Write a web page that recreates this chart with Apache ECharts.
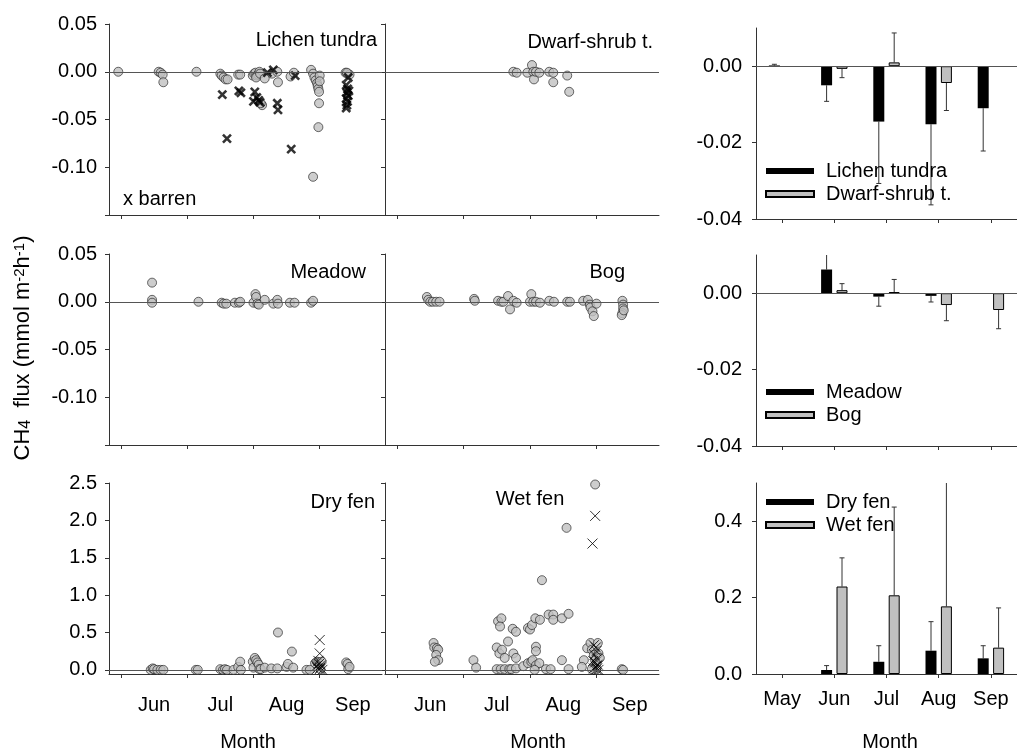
<!DOCTYPE html>
<html>
<head>
<meta charset="utf-8">
<title>CH4 flux by vegetation type</title>
<script src="https://cdn.jsdelivr.net/npm/echarts@6.0.0/dist/echarts.min.js"></script>
<style>
  html, body { margin: 0; padding: 0; background: #fff; }
  #chart { width: 1017px; height: 751px; }
</style>
</head>
<body>
<div id="chart"></div>
<script>
// ---- data: x is month as a fraction (6.0 = 1 June), y is CH4 flux ----
const monthStarts = [6, 7, 8, 9];
const monthMids = [6.5, 7.5, 8.5, 9.5];
const scatterMonths = ['Jun', 'Jul', 'Aug', 'Sep'];
const barMonths = ['May', 'Jun', 'Jul', 'Aug', 'Sep'];

const fluxTicks = [-0.15, -0.1, -0.05, 0, 0.05];
const fluxLabels = [-0.1, -0.05, 0, 0.05];
const fenTicks = [0, 0.5, 1, 1.5, 2, 2.5];
const meanTicks = [-0.04, -0.02, 0];
const fenMeanTicks = [0, 0.2, 0.4];

const lichenPoints = [
  [5.96, 0], [6.57, 0], [6.6, -0.001], [6.63, -0.003], [6.64, -0.011], [7.14, 0],
  [7.5, -0.002], [7.52, -0.004], [7.55, -0.006], [7.58, -0.008], [7.61, -0.008],
  [7.77, -0.003], [7.8, -0.003], [7.99, -0.004], [8.01, -0.002], [8.03, -0.001],
  [8.05, -0.004], [8.07, -0.003], [8.09, 0], [8.04, -0.006], [8.1, -0.002],
  [8.17, -0.007], [8.13, -0.035], [8.11, -0.033], [8.28, -0.002], [8.36, 0], [8.37, -0.011],
  [8.56, -0.005], [8.61, -0.001], [8.87, 0.002], [8.9, -0.002], [8.92, -0.006],
  [8.94, -0.009], [8.96, -0.012], [8.97, -0.015], [8.98, -0.018], [8.99, -0.021],
  [9.0, -0.004], [9.0, -0.01], [8.99, -0.033], [8.98, -0.058], [8.9, -0.11],
  [9.39, -0.001], [9.42, -0.002], [9.45, -0.003], [9.41, -0.001]
];
const barrenPoints = [
  [7.53, -0.024], [7.6, -0.07], [7.78, -0.02], [7.81, -0.022], [8.0, -0.031], [8.02, -0.021],
  [8.05, -0.027], [8.08, -0.03], [8.1, -0.032], [8.21, -0.001], [8.3, 0.002], [8.36, -0.033],
  [8.37, -0.04], [8.57, -0.081], [8.63, -0.004], [9.4, -0.014], [9.42, -0.018], [9.41, -0.022],
  [9.43, -0.025], [9.4, -0.028], [9.42, -0.031], [9.41, -0.035], [9.4, -0.038], [9.43, -0.006],
  [9.44, -0.02]
];
const dwarfPoints = [
  [7.75, 0], [7.8, -0.001], [7.96, -0.001], [8.03, 0.007], [8.05, 0], [8.06, -0.008],
  [8.09, 0], [8.14, -0.001], [8.29, 0], [8.35, -0.001], [8.35, -0.011], [8.56, -0.004],
  [8.59, -0.021]
];
const meadowPoints = [
  [6.47, 0.02], [6.47, 0.002], [6.47, -0.001], [7.17, 0], [7.52, -0.001], [7.55, -0.002],
  [7.59, -0.002], [7.72, -0.001], [7.78, -0.001], [7.8, 0], [8.0, -0.001], [8.03, 0.008],
  [8.04, 0.005], [8.06, -0.002], [8.08, -0.003], [8.17, 0.002], [8.3, -0.002], [8.36, 0.002],
  [8.37, -0.002], [8.55, -0.001], [8.62, -0.001], [8.87, -0.001], [8.9, 0.001]
];
const bogPoints = [
  [6.45, 0.005], [6.47, 0.002], [6.5, 0], [6.54, 0], [6.59, 0], [6.64, 0], [7.16, 0.003],
  [7.17, 0.001], [7.52, 0.001], [7.57, 0], [7.6, 0], [7.67, 0.006], [7.7, -0.008], [7.75, 0.001],
  [7.8, -0.001], [8.0, 0], [8.02, 0.008], [8.05, 0], [8.09, 0], [8.15, -0.001], [8.29, 0.001],
  [8.36, 0], [8.56, 0], [8.6, 0], [8.8, 0.001], [8.87, 0.002], [8.9, -0.003], [8.91, -0.006],
  [8.94, -0.01], [8.96, -0.015], [9.0, -0.002], [9.39, 0.001], [9.4, -0.003], [9.4, -0.007],
  [9.39, -0.012], [9.38, -0.014], [9.41, -0.009]
];
const dryFenPoints = [
  [6.45, 0], [6.48, 0.02], [6.5, 0.01], [6.55, 0], [6.6, 0], [6.64, 0], [7.13, 0], [7.16, 0],
  [7.5, 0.01], [7.54, 0], [7.57, 0.01], [7.6, 0], [7.7, 0], [7.77, 0.04], [7.8, 0.11], [7.81, 0],
  [7.99, 0.11], [8.0, 0.03], [8.02, 0.16], [8.04, 0.13], [8.06, 0.1], [8.08, 0.07], [8.09, 0.01],
  [8.11, 0.01], [8.17, 0.03], [8.27, 0.02], [8.36, 0.02], [8.37, 0.5], [8.5, 0.04], [8.52, 0.08],
  [8.58, 0.245], [8.6, 0.03], [8.8, 0], [8.85, 0], [8.93, 0.09], [8.96, 0.11], [8.98, 0.1],
  [9.0, 0.08], [9.01, 0.01], [9.03, 0.11], [9.4, 0.1], [9.42, 0.08], [9.43, 0.01], [9.45, 0.04]
];
const dryFenCrosses = [
  [9.0, 0.4], [9.0, 0.22], [8.98, 0.12], [8.95, 0.05], [8.97, 0.02], [9.0, 0.01],
  [9.02, 0.06], [9.04, 0.0], [8.99, 0.08], [9.01, 0.03]
];
const wetFenPoints = [
  [6.55, 0.36], [6.56, 0.3], [6.6, 0.29], [6.62, 0.27], [6.59, 0.2], [6.62, 0.13], [6.57, 0.11],
  [7.15, 0.13], [7.19, 0.03], [7.52, 0.65], [7.57, 0.69], [7.55, 0.58], [7.5, 0.3], [7.54, 0.22],
  [7.58, 0.27], [7.62, 0.16], [7.67, 0.38], [7.74, 0.55], [7.79, 0.51], [7.75, 0.22], [7.79, 0.16],
  [7.5, 0.01], [7.56, 0.01], [7.62, 0.01], [7.69, 0.01], [7.72, 0.01], [7.79, 0.02],
  [7.97, 0.56], [8.0, 0.54], [8.03, 0.6], [8.08, 0.69], [8.15, 0.67], [8.18, 1.2], [8.09, 0.31],
  [8.09, 0.25], [7.9, 0.05], [7.97, 0.09], [8.02, 0.11], [8.04, 0.13], [8.09, 0.06], [8.14, 0.09],
  [8.07, 0.0], [8.24, 0.01], [8.31, 0.01], [8.28, 0.74], [8.35, 0.74], [8.35, 0.67], [8.48, 0.69],
  [8.58, 0.75], [8.55, 1.9], [8.48, 0.13], [8.58, 0.01], [8.98, 2.48], [8.81, 0.13], [8.78, 0.04],
  [8.86, 0.29], [8.91, 0.36], [8.93, 0.27], [8.96, 0.2], [8.98, 0.13], [9.0, 0.09], [9.02, 0.36],
  [9.03, 0.22], [9.05, 0.16], [9.0, 0.01], [8.93, 0.01], [9.38, 0.01], [9.4, 0.0]
];
const wetFenCrosses = [
  [8.98, 2.06], [8.94, 1.69], [8.96, 0.33], [8.99, 0.3], [9.0, 0.25], [8.97, 0.2], [9.01, 0.15],
  [8.98, 0.1], [9.02, 0.07], [8.99, 0.04], [9.0, 0.01], [8.96, 0.02], [9.03, 0.0], [8.95, 0.12],
  [9.01, 0.05]
];

// monthly means and one-sided errors
const lichenMean = [0.0002, -0.005, -0.0145, -0.0152, -0.011];
const lichenErr = [0.0003, 0.0042, 0.0162, 0.0211, 0.0112];
const dwarfMean = [null, -0.0007, 0.001, -0.0044, null];
const dwarfErr = [null, 0.0023, 0.0077, 0.0072, null];
const meadowMean = [null, 0.0062, -0.0009, -0.0007, null];
const meadowErr = [null, 0.006, 0.0025, 0.0016, null];
const bogMean = [null, 0.0008, 0.0003, -0.0031, -0.0044];
const bogErr = [null, 0.0017, 0.0033, 0.0041, 0.0049];
const dryFenMean = [null, 0.0104, 0.032, 0.061, 0.041];
const dryFenErr = [null, 0.0116, 0.042, 0.076, 0.033];
const wetFenMean = [null, 0.229, 0.206, 0.177, 0.069];
const wetFenErr = [null, 0.075, 0.231, 0.4, 0.104];

// ---- styling ----
const FONT = 'Liberation Sans, Arial, sans-serif';
const AXIS = '#333';
const GREY = '#c0c0c0';
const BAR_W = 11;
const BAR_GAP = 0.4;
const CAP = 2.5;

const chart = echarts.init(document.getElementById('chart'));

const axisLine = { show: true, onZero: false, lineStyle: { color: AXIS, width: 1 } };
const tickStyle = { color: AXIS, width: 1 };
const labelStyle = { color: '#000', fontSize: 20, fontFamily: FONT };

function scatterX(gridIndex, withLabels) {
  return {
    type: 'value', gridIndex, min: 5.82, max: 9.94,
    axisLine,
    axisTick: { show: true, length: 4, customValues: monthStarts, lineStyle: tickStyle },
    axisLabel: Object.assign({
      show: withLabels, margin: 21, customValues: monthMids,
      formatter: v => scatterMonths[Math.round(v - 6.5)]
    }, labelStyle),
    splitLine: { show: false }
  };
}

function valueY(gridIndex, min, max, ticks, labels, digits, withLabels, margin) {
  return {
    type: 'value', gridIndex, min, max,
    axisLine,
    axisTick: { show: true, length: 4, customValues: ticks, lineStyle: tickStyle },
    axisLabel: Object.assign({
      show: withLabels, margin, customValues: labels,
      formatter: v => v.toFixed(digits)
    }, labelStyle),
    splitLine: { show: false }
  };
}

function barX(gridIndex, withLabels) {
  return {
    type: 'category', gridIndex, data: barMonths, boundaryGap: true,
    axisLine,
    axisTick: { show: true, length: 4, alignWithLabel: true, lineStyle: tickStyle },
    axisLabel: Object.assign({ show: withLabels, margin: 15 }, labelStyle),
    splitLine: { show: false }
  };
}

const zeroLine = {
  silent: true, symbol: ['none', 'none'], label: { show: false },
  lineStyle: { color: '#555', width: 1, type: 'solid' },
  emphasis: { disabled: true },
  data: [{ yAxis: 0 }]
};

function circles(name, idx, data) {
  return {
    name, type: 'scatter', xAxisIndex: idx, yAxisIndex: idx, data,
    symbol: 'circle', symbolSize: 9,
    itemStyle: { color: GREY, borderColor: '#1a1a1a', borderWidth: 0.8 },
    markLine: zeroLine, z: 2
  };
}

function crosses(name, idx, data, size, width) {
  return {
    name, type: 'scatter', xAxisIndex: idx, yAxisIndex: idx, data,
    symbol: 'path://M0,0L10,10M10,0L0,10', symbolSize: size,
    itemStyle: { color: 'transparent', borderColor: '#000', borderWidth: width },
    z: 3
  };
}

function bars(name, idx, data, dark, withZero) {
  const s = {
    name, type: 'bar', xAxisIndex: idx, yAxisIndex: idx, data,
    barWidth: BAR_W, barGap: (BAR_GAP * 100) + '%',
    itemStyle: dark
      ? { color: '#000' }
      : { color: GREY, borderColor: '#000', borderWidth: 1 },
    z: 2
  };
  if (withZero) s.markLine = zeroLine;
  return s;
}

function errorBars(idx, means, errs, side) {
  const data = [];
  means.forEach((m, i) => { if (m !== null) data.push([i, m, errs[i]]); });
  return {
    type: 'custom', xAxisIndex: idx, yAxisIndex: idx, data,
    encode: { x: 0, y: 1 }, silent: true, z: 1,
    renderItem(params, api) {
      const mean = api.value(1);
      const err = api.value(2);
      const end = mean + (mean < 0 ? -err : err);
      const p0 = api.coord([api.value(0), mean]);
      const p1 = api.coord([api.value(0), end]);
      const cs = params.coordSys;
      const x = p0[0] + side * BAR_W * (1 + BAR_GAP) / 2;
      let y1 = p1[1];
      let capped = true;
      if (y1 < cs.y) { y1 = cs.y; capped = false; }
      if (y1 > cs.y + cs.height) { y1 = cs.y + cs.height; capped = false; }
      const style = { stroke: '#333', lineWidth: 1 };
      const children = [{ type: 'line', shape: { x1: x, y1: p0[1], x2: x, y2: y1 }, style }];
      if (capped) {
        children.push({ type: 'line', shape: { x1: x - CAP, y1, x2: x + CAP, y2: y1 }, style });
      }
      return { type: 'group', children };
    }
  };
}

function legend(names, top) {
  return {
    data: names, orient: 'vertical', left: 760, top,
    icon: 'rect', itemWidth: 48, itemHeight: 6, itemGap: 3,
    selectedMode: false,
    textStyle: { color: '#000', fontSize: 20, fontFamily: FONT, padding: [0, 0, 0, 7], lineHeight: 20 }
  };
}

function panelText(text, x, y, align) {
  return {
    type: 'text', x, y, silent: true,
    style: { text, fill: '#000', font: '20px ' + FONT, textAlign: align || 'right', textVerticalAlign: 'middle' }
  };
}

const option = {
  animation: false,
  backgroundColor: '#fff',
  textStyle: { fontFamily: FONT },
  grid: [
    { left: 109, top: 24, width: 273, height: 191 },
    { left: 385, top: 24, width: 274, height: 191 },
    { left: 109, top: 254, width: 273, height: 191 },
    { left: 385, top: 254, width: 274, height: 191 },
    { left: 109, top: 483, width: 273, height: 191 },
    { left: 385, top: 483, width: 274, height: 191 },
    { left: 756, top: 28, width: 261, height: 191 },
    { left: 756, top: 255, width: 261, height: 191 },
    { left: 756, top: 483, width: 261, height: 191 }
  ],
  xAxis: [
    scatterX(0, false), scatterX(1, false),
    scatterX(2, false), scatterX(3, false),
    scatterX(4, true), scatterX(5, true),
    barX(6, false), barX(7, false), barX(8, true)
  ],
  yAxis: [
    valueY(0, -0.15, 0.05, fluxTicks, fluxLabels, 2, true, 12),
    valueY(1, -0.15, 0.05, fluxTicks, fluxLabels, 2, false, 12),
    valueY(2, -0.15, 0.05, fluxTicks, fluxLabels, 2, true, 12),
    valueY(3, -0.15, 0.05, fluxTicks, fluxLabels, 2, false, 12),
    valueY(4, -0.055, 2.5, fenTicks, fenTicks, 1, true, 12),
    valueY(5, -0.055, 2.5, fenTicks, fenTicks, 1, false, 12),
    valueY(6, -0.04, 0.01, meanTicks, meanTicks, 2, true, 14),
    valueY(7, -0.04, 0.01, meanTicks, meanTicks, 2, true, 14),
    valueY(8, 0, 0.5, fenMeanTicks, fenMeanTicks, 1, true, 14)
  ],
  legend: [
    legend(['Lichen tundra', 'Dwarf-shrub t.'], 156),
    legend(['Meadow', 'Bog'], 377),
    legend(['Dry fen', 'Wet fen'], 487)
  ],
  graphic: [
    panelText('Lichen tundra', 377, 40),
    panelText('x barren', 123, 199, 'left'),
    panelText('Dwarf-shrub t.', 653, 42),
    panelText('Meadow', 366, 272),
    panelText('Bog', 625, 272),
    panelText('Dry fen', 375, 502),
    panelText('Wet fen', 530, 499, 'center'),
    panelText('Month', 248, 742, 'center'),
    panelText('Month', 538, 742, 'center'),
    panelText('Month', 890, 742, 'center'),
    {
      type: 'text', x: 23, y: 348, rotation: Math.PI / 2, silent: true,
      style: {
        text: 'CH{sub|4}  flux (mmol m{sup|-2}h{sup|-1})',
        fill: '#000', font: '22px ' + FONT, textAlign: 'center', textVerticalAlign: 'middle',
        rich: {
          sub: { fontSize: 16, fontFamily: FONT, verticalAlign: 'bottom', fill: '#000' },
          sup: { fontSize: 15, fontFamily: FONT, verticalAlign: 'top', fill: '#000' }
        }
      }
    }
  ],
  series: [
    circles('Lichen points', 0, lichenPoints),
    crosses('barren', 0, barrenPoints, 8, 2.6),
    circles('Dwarf points', 1, dwarfPoints),
    circles('Meadow points', 2, meadowPoints),
    circles('Bog points', 3, bogPoints),
    circles('Dry fen points', 4, dryFenPoints),
    crosses('Dry fen x', 4, dryFenCrosses, 10, 1),
    circles('Wet fen points', 5, wetFenPoints),
    crosses('Wet fen x', 5, wetFenCrosses, 10, 1),

    bars('Lichen tundra', 6, lichenMean, true, true),
    bars('Dwarf-shrub t.', 6, dwarfMean, false, false),
    errorBars(6, lichenMean, lichenErr, -1),
    errorBars(6, dwarfMean, dwarfErr, 1),

    bars('Meadow', 7, meadowMean, true, true),
    bars('Bog', 7, bogMean, false, false),
    errorBars(7, meadowMean, meadowErr, -1),
    errorBars(7, bogMean, bogErr, 1),

    bars('Dry fen', 8, dryFenMean, true, false),
    bars('Wet fen', 8, wetFenMean, false, false),
    errorBars(8, dryFenMean, dryFenErr, -1),
    errorBars(8, wetFenMean, wetFenErr, 1)
  ]
};

chart.setOption(option);
</script>
</body>
</html>
